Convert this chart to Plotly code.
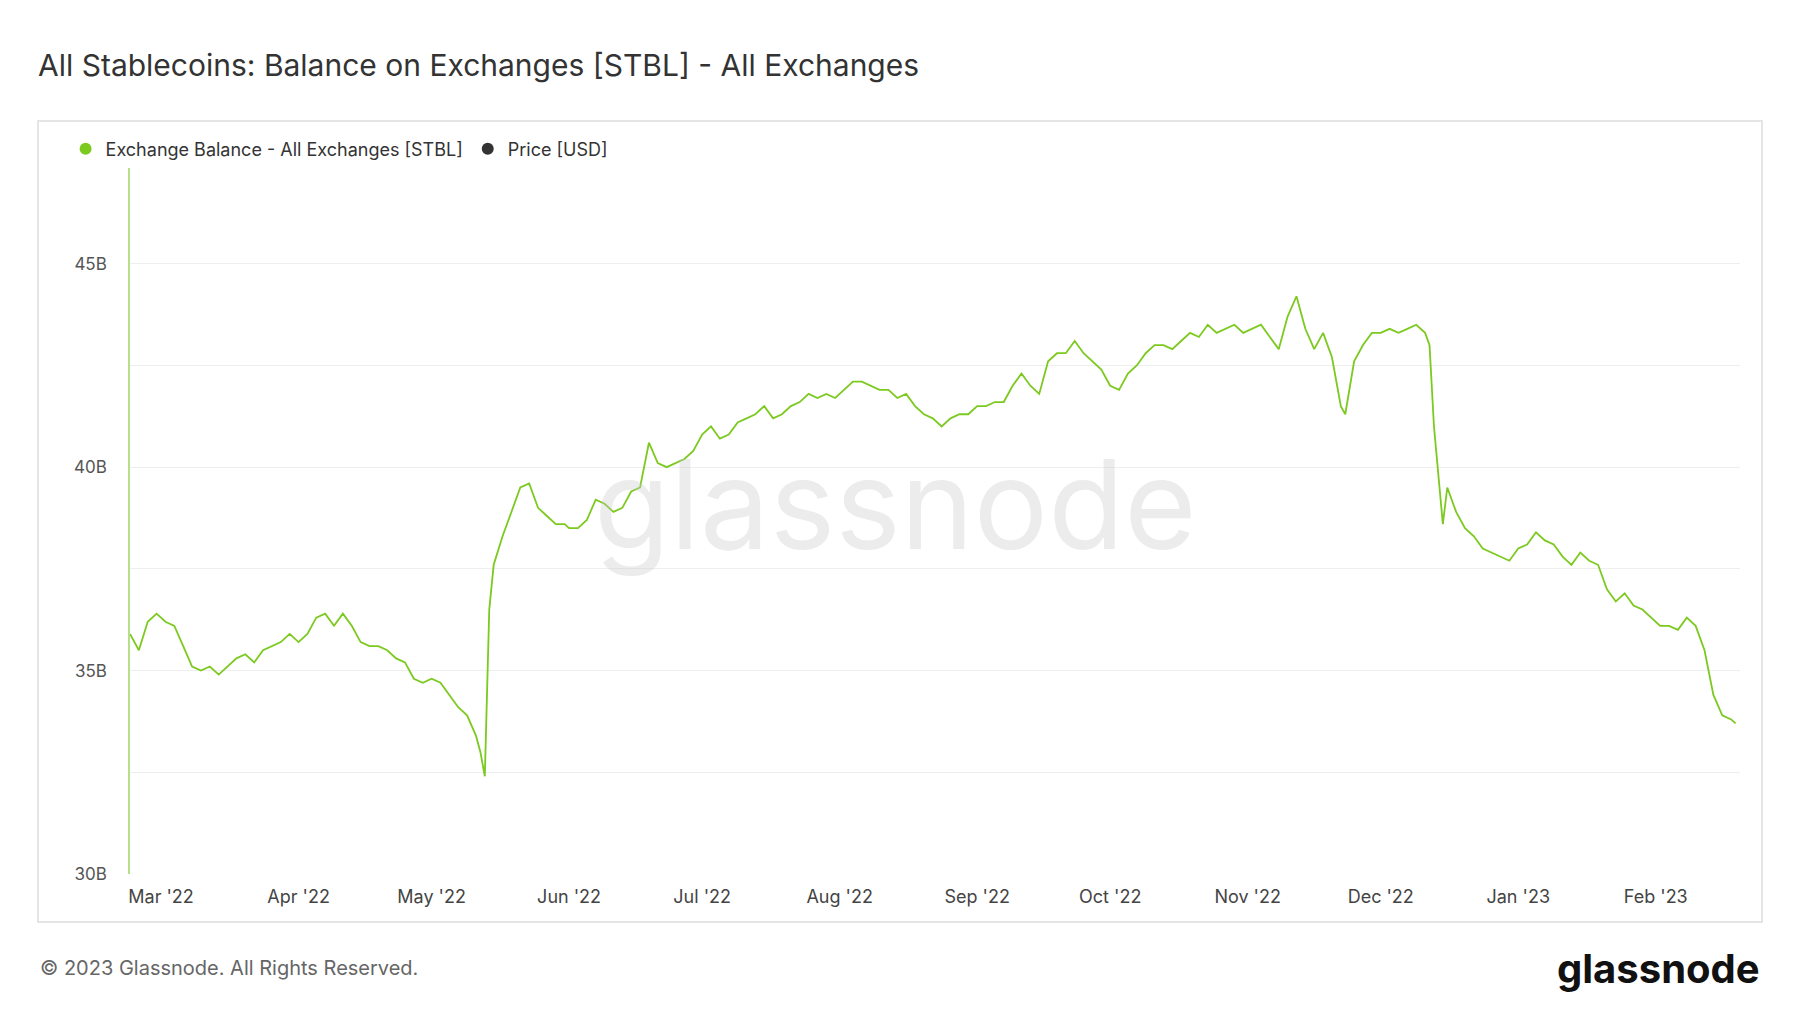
import plotly.graph_objects as go
import pandas as pd

start = "2022-02-22"
vals_a = [35.9,35.5,36.2,36.4,36.2,36.1,35.6,35.1,35.0,35.1,34.9,35.1,35.3,35.4,35.2,35.5,35.6,35.7,35.9,35.7,
35.9,36.3,36.4,36.1,36.4,36.1,35.7,35.6,35.6,35.5,35.3,35.2,34.8,34.7,34.8,34.7,34.4,34.1,33.9,33.4]
dates_a = list(pd.date_range(start, periods=len(vals_a), freq="2D"))
dates_b = ["2022-05-12","2022-05-13","2022-05-14","2022-05-15","2022-05-17","2022-05-19","2022-05-21","2022-05-23",
"2022-05-25","2022-05-27","2022-05-29","2022-05-31"]
vals_b = [33.0,32.4,36.5,37.6,38.3,38.9,39.5,39.6,39.0,38.8,38.6,38.6]
vals_c = [38.5,38.5,38.7,39.2,39.1,38.9,39.0,39.4,39.5,40.6,40.1,40.0,40.1,40.2,40.4,
40.8,41.0,40.7,40.8,41.1,41.2,41.3,41.5,41.2,41.3,41.5,41.6,41.8,41.7,41.8,41.7,
41.9,42.1,42.1,42.0,41.9,41.9,41.7,41.8,41.5,41.3,41.2,41.0,41.2,41.3,41.3,
41.5,41.5,41.6,41.6,42.0,42.3,42.0,41.8,42.6,42.8,42.8,43.1,42.8,42.6,42.4,
42.0,41.9,42.3,42.5,42.8,43.0,43.0,42.9,43.1,43.3,43.2,43.5,43.3,43.4,43.5,43.3,
43.4,43.5,43.2,42.9,43.7,44.2,43.4,42.9,43.3,42.7]
dates_c = list(pd.date_range("2022-06-01", periods=len(vals_c), freq="2D"))
dates_d = ["2022-11-22","2022-11-23","2022-11-25","2022-11-27","2022-11-29","2022-12-01","2022-12-03","2022-12-05",
"2022-12-07","2022-12-09","2022-12-11","2022-12-12","2022-12-13","2022-12-14","2022-12-15","2022-12-16"]
vals_d = [41.5,41.3,42.6,43.0,43.3,43.3,43.4,43.3,43.4,43.5,43.3,43.0,41.0,39.8,38.6,39.5]
vals_e = [38.9,38.5,38.3,38.0,37.9,37.8,37.7,38.0,38.1,38.4,38.2,38.1,37.8,37.6,37.9,37.7,37.6,
37.0,36.7,36.9,36.6,36.5,36.3,36.1,36.1,36.0,36.3,36.1,35.5]
dates_e = list(pd.date_range("2022-12-18", periods=len(vals_e), freq="2D"))
dates_f = ["2023-02-13","2023-02-14","2023-02-16","2023-02-18","2023-02-19"]
vals_f = [34.9,34.4,33.9,33.8,33.7]

dates = [pd.Timestamp(d) for d in list(dates_a)+dates_b+list(dates_c)+dates_d+list(dates_e)+dates_f]
values = [v*1e9 for v in vals_a+vals_b+vals_c+vals_d+vals_e+vals_f]

green = "#7cc91f"
fig = go.Figure()
fig.add_trace(go.Scatter(x=dates, y=values, mode="lines", line=dict(color=green, width=1.8), showlegend=False))
fig.add_trace(go.Scatter(x=[None], y=[None], mode="markers", marker=dict(color=green, size=12),
                         name="Exchange Balance - All Exchanges [STBL]"))
fig.add_trace(go.Scatter(x=[None], y=[None], mode="markers", marker=dict(color="#333333", size=12),
                         name="Price [USD]"))

ytv = [30e9,32.5e9,35e9,37.5e9,40e9,42.5e9,45e9,47.5e9]
ytt = ["30B","","35B","","40B","","45B",""]
xtv = pd.date_range("2022-03-01", "2023-02-01", freq="MS")
xtt = [d.strftime("%b '%y") for d in xtv]

W, H = 1610, 712
fig.update_layout(
    width=1800, height=1013, paper_bgcolor="white", plot_bgcolor="white",
    font=dict(family="Inter", color="#444"),
    margin=dict(l=122, r=68, t=154, b=147),
    title=dict(text="All Stablecoins: Balance on Exchanges [STBL] - All Exchanges", x=30/1800, xanchor="left",
               y=1-57/1013, yanchor="middle", font=dict(size=30, color="#333")),
    legend=dict(orientation="h", x=-0.04, y=1+13/H, xanchor="left", yanchor="middle",
                font=dict(size=18, color="#333"), itemwidth=30),
    xaxis=dict(range=["2022-02-22","2023-02-20"], tickvals=xtv, ticktext=xtt, showgrid=False,
               tickfont=dict(size=18, color="#444"), ticks="", showline=False, ticklabelstandoff=10),
    yaxis=dict(range=[30e9,47.5e9], tickvals=ytv, ticktext=ytt, gridcolor="#eeeeee", zeroline=False,
               showline=True, linecolor="#b5e08a", linewidth=1.5,
               tickfont=dict(size=17, color="#555"), ticklabelstandoff=18),
    shapes=[dict(type="rect", xref="paper", yref="paper", x0=-92/W, x1=1+22/W, y0=-48/H, y1=1+41/H,
                 line=dict(color="#dddddd", width=1.5), layer="below")],
    annotations=[
        dict(text="glassnode", xref="paper", yref="paper", x=0.475, y=0.52, showarrow=False,
             font=dict(size=124, color="rgba(200,200,200,0.35)", family="Inter")),
        dict(text="© 2023 Glassnode. All Rights Reserved.", xref="paper", yref="paper", x=-92/W, y=-94/H,
             xanchor="left", yanchor="middle", showarrow=False, font=dict(size=20, color="#666")),
        dict(text="<b>glassnode</b>", xref="paper", yref="paper", x=1+22/W, y=-94/H,
             xanchor="right", yanchor="middle", showarrow=False, font=dict(size=40, color="#111")),
    ],
)
fig.write_html("out.html")
